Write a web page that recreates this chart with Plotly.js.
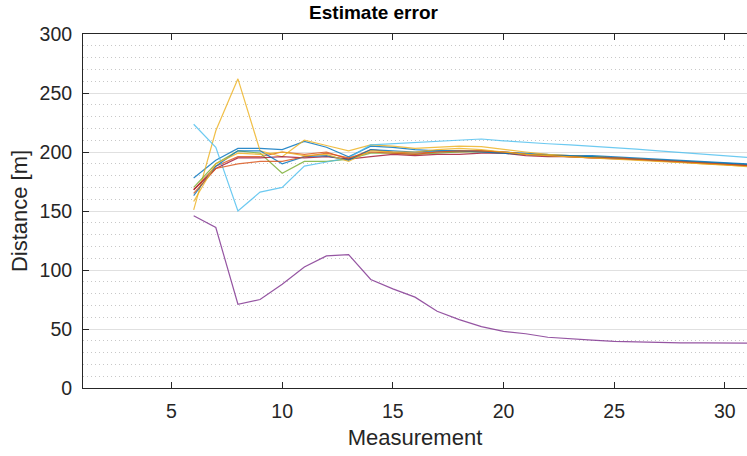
<!DOCTYPE html>
<html>
<head>
<meta charset="utf-8">
<script src="https://cdn.plot.ly/plotly-3.0.1.min.js"></script>
<style>html,body{margin:0;padding:0;background:#fff;}#chart{width:747px;height:456px;}</style>
</head>
<body>
<div id="chart"></div>
<script>
const measurements = [6,7,8,9,10,11,12,13,14,15,16,17,18,19,20,21,22,23,24,25,26,27,28,29,30,31];

const run1  = [178,193,203,203,202,209,204,196,205,204,202,201,201,201,200,199,198,197,197,196,195,194,193,192,191,190];
const run2  = [168,188,196,196,200,198,200,194,202,200,199,200,200,201,200,198,197,196,196,195,194,193,192,191,190,189];
const run3  = [151,218,262,201,196,210,205.5,201,206,205,203,204,205,204.5,202,200,198,197,196,195,194,192.5,191.5,190,189,188];
const run4  = [146,136,71,75,88,102.5,112,113,92,84,77,65,58,52,48,46,43,41.5,40.5,39.5,39,38.5,38.3,38.2,38.1,38];
const run5  = [170,190,201,199,182,192,192,194,199,199,198,199,200,200,199,198,197,196,196,195,194,193,192,191,190,189];
const run6  = [223.5,204,150,166,170,188,191.5,195,206,207,208.5,209,210,211,209.5,208,207,206,205,203.5,202.5,201,199.5,198,197,195.5];
const run7  = [168,186,195,195,196,195,196,194,196,198,197,198,198,199,199,197,196,196,195,194.5,193.5,192.5,191.5,190.5,189.5,188.5];
const run8  = [163,188,201,201,190,196,197,193,202,201,200,201,201,200,199,198,197,197,196,195,194,193,192,191,190,189.5];
const run9  = [165,186,190,192,192,196,199,195,200,199,198,200,201,201,200,198,197,196,195,195,194,192.5,191.5,190.5,189.5,188.5];
const run10 = [158,190,199,198,200,197,198,192,201,200,200,202,203,202,200,198,197,196,195.5,194.5,193.5,192.5,191,190,189,187.5];

const runs = [run1,run2,run3,run4,run5,run6,run7,run8,run9,run10];
const colors = ['#0072BD','#D95319','#EDB120','#7E2F8E','#77AC30','#4DBEEE','#A2142F','#0072BD','#D95319','#EDB120'];

const traces = runs.map((r,i) => ({
  x: measurements, y: r, type: 'scatter', mode: 'lines',
  line: {color: colors[i], width: 1.2}, opacity: 0.82, showlegend: false, hoverinfo: 'skip'
}));

const font = "'Liberation Sans', Arial, Helvetica, sans-serif";
const layout = {
  width: 747, height: 456,
  margin: {l: 83, r: 0, t: 34, b: 68},
  paper_bgcolor: '#fff', plot_bgcolor: '#fff',
  title: {text: '<b>Estimate error</b>', font: {family: font, size: 19, color: '#000'}, x: 0.5, xanchor: 'center', y: 0.972, yanchor: 'middle'},
  xaxis: {
    range: [1, 31], tickvals: [5,10,15,20,25,30], ticks: 'inside', ticklen: 6, tickcolor: '#262626',
    showline: true, linecolor: '#262626', linewidth: 1, mirror: 'ticks', showgrid: false, zeroline: false,
    tickfont: {family: font, size: 19.5, color: '#262626'}, ticklabelstandoff: 6,
    title: {text: 'Measurement', font: {family: font, size: 22, color: '#262626'}, standoff: 8}
  },
  yaxis: {
    range: [0, 300], tickvals: [0,50,100,150,200,250,300], ticks: 'inside', ticklen: 6, tickcolor: '#262626',
    showline: true, linecolor: '#262626', linewidth: 1, mirror: false,
    showgrid: true, gridcolor: '#e0e0e0', gridwidth: 1, zeroline: false,
    minor: {dtick: 10, showgrid: true, gridcolor: '#c8c8c8', griddash: '1px,3px', gridwidth: 1, ticks: ''},
    tickfont: {family: font, size: 19.5, color: '#262626'}, ticklabelstandoff: 6,
    title: {text: 'Distance [m]', font: {family: font, size: 22, color: '#262626'}, standoff: 5}
  }
};

Plotly.newPlot('chart', traces, layout, {staticPlot: true, displayModeBar: false});
</script>
</body>
</html>
